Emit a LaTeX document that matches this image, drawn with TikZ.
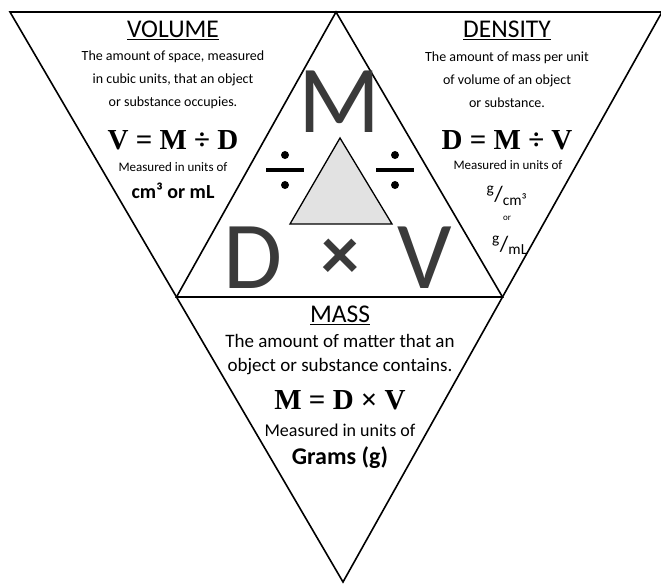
\documentclass[tikz,border=0pt]{standalone}
\usepackage{fontspec}
\setmainfont{Carlito}
\newfontfamily\eqfont{Liberation Serif}
\usepackage{xcolor}
\usetikzlibrary{calc}
\definecolor{lettergray}{RGB}{58,58,58}
\definecolor{wedgegray}{RGB}{226,226,226}

\begin{document}
\begin{tikzpicture}[x=1pt,y=-1pt,
  edge/.style={line width=1.6pt,line join=miter},
  head/.style={font=\fontsize{25.5}{28}\selectfont},
  body/.style={font=\fontsize{14}{23}\selectfont,align=center},
  eq/.style={font=\eqfont\bfseries\fontsize{29}{32}\selectfont},
  unit/.style={font=\fontsize{13}{16}\selectfont},
  ratio/.style={font=\fontsize{22}{24}\selectfont,inner sep=0pt},
  big/.style={font=\fontsize{96}{96}\selectfont,text=lettergray,inner sep=0pt}]
\useasboundingbox (0,0) rectangle (661,585);
\coordinate (tl) at (10,12);
\coordinate (tr) at (662,12);
\coordinate (bt) at (343,582);
\coordinate (ap) at ($(tl)!0.5!(tr)$);
\coordinate (ml) at ($(tl)!0.5!(bt)$);
\coordinate (mr) at ($(tr)!0.5!(bt)$);
\draw[edge] (tl) -- (tr) -- (bt) -- cycle;
\draw[edge] (ml) -- (ap) -- (mr) -- cycle;
\coordinate (ga) at (340,138);
\coordinate (gl) at (290,224);
\coordinate (gr) at (392,224);
\draw[line width=1.3pt,fill=wedgegray] (ga) -- (gl) -- (gr) -- cycle;
\foreach \x in {285,395}{
  \fill (\x-19,168) rectangle (\x+19,172);
  \fill (\x,155) circle (4); \fill (\x,185) circle (4);}
\node[big] (bigm) at (340,102) {M};
\node[big] (bigd) at (253,258) {D};
\node[big] (bigv) at (425,258) {V};
\node[font=\bfseries\fontsize{76}{76}\selectfont,text=lettergray,inner sep=0pt] (times) at (340,259) {×};
\node[head] (volt) at (173,30) {\underline{VOLUME}};
\node[body] (vold) at (173,80) {The amount of space, measured\\in cubic units, that an object\\or substance occupies.};
\node[eq] (vole) at (173,140) {V = M ÷ D};
\node[unit] (volu) at (173,167) {Measured in units of};
\node[font=\bfseries\fontsize{20}{22}\selectfont] (volc) at (173,191) {cm³ or mL};
\node[head] (dent) at (507,30) {\underline{DENSITY}};
\node[body] (dend) at (507,80) {The amount of mass per unit\\of volume of an object\\or substance.};
\node[eq] (dene) at (507,140) {D = M ÷ V};
\node[unit] (denu) at (508,165) {Measured in units of};
\node[ratio] (deng) at (507,196) {\textsuperscript{g}/\textsubscript{cm³}};
\node[font=\fontsize{9}{10}\selectfont] (denor) at (507,218) {or};
\node[ratio] (denm) at (510,245) {\textsuperscript{g}/\textsubscript{mL}};
\node[head] (mast) at (340,315) {\underline{MASS}};
\node[body,font=\fontsize{19}{24}\selectfont] (masd) at (340,355) {The amount of matter that an\\object or substance contains.};
\node[eq] (mase) at (340,400) {M = D × V};
\node[font=\fontsize{18}{20}\selectfont] (masu) at (340,430) {Measured in units of};
\node[font=\bfseries\fontsize{24}{26}\selectfont] (masg) at (340,458) {Grams (g)};
\end{tikzpicture}
\end{document}
